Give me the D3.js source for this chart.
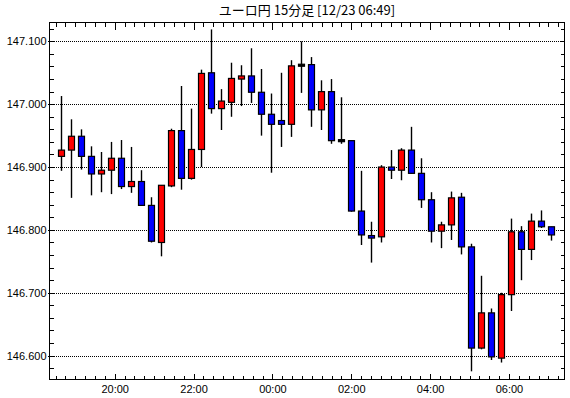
<!DOCTYPE html>
<html>
<head>
<meta charset="utf-8">
<script src="https://cdn.jsdelivr.net/npm/d3@7"></script>
<style>
  html, body { margin: 0; padding: 0; background: #fff; }
  svg { display: block; }
  .tick-label { font-family: "Liberation Sans", Arial, sans-serif; font-size: 11px; fill: #000; }
</style>
</head>
<body>
<svg id="chart" width="570" height="398"></svg>
<script>
// =========
// DATA
// =========

// 15 minute candles, 12/22 18:30 .. 12/23 06:45
const times = ["18:30","18:45","19:00","19:15","19:30","19:45","20:00","20:15","20:30","20:45",
               "21:00","21:15","21:30","21:45","22:00","22:15","22:30","22:45","23:00","23:15",
               "23:30","23:45","00:00","00:15","00:30","00:45","01:00","01:15","01:30","01:45",
               "02:00","02:15","02:30","02:45","03:00","03:15","03:30","03:45","04:00","04:15",
               "04:30","04:45","05:00","05:15","05:30","05:45","06:00","06:15","06:30","06:45"];

const opens  = [146.917,146.927,146.949,146.917,146.889,146.895,146.914,146.869,146.877,146.839,
                146.780,146.870,146.958,146.882,146.928,147.050,146.993,147.003,147.040,147.045,
                147.019,146.984,146.974,146.968,147.062,147.063,146.991,147.020,146.942,146.942,
                146.830,146.791,146.789,146.900,146.895,146.927,146.890,146.848,146.798,146.808,
                146.852,146.773,146.612,146.668,146.596,146.697,146.797,146.769,146.814,146.805];

const highs  = [147.013,146.976,146.960,146.933,146.924,146.940,146.943,146.932,146.895,146.852,
                146.871,146.961,147.029,146.993,147.055,147.119,147.024,147.066,147.062,147.089,
                147.056,147.017,147.050,147.070,147.100,147.075,147.038,147.040,147.011,146.942,
                146.894,146.813,146.903,146.927,146.930,146.964,146.914,146.860,146.813,146.861,
                146.859,146.778,146.727,146.675,146.700,146.818,146.806,146.826,146.831,146.805];

const lows   = [146.894,146.851,146.896,146.855,146.860,146.857,146.865,146.859,146.838,146.780,
                146.758,146.868,146.864,146.880,146.900,146.985,146.959,146.980,146.997,147.002,
                146.950,146.891,146.932,146.948,147.018,146.964,146.959,146.937,146.937,146.829,
                146.776,146.748,146.780,146.881,146.879,146.890,146.835,146.780,146.771,146.784,
                146.761,146.575,146.610,146.593,146.589,146.671,146.720,146.752,146.803,146.783];

const closes = [146.927,146.949,146.917,146.889,146.895,146.914,146.869,146.877,146.839,146.782,
                146.871,146.958,146.882,146.928,147.049,146.993,147.005,147.041,147.045,147.019,
                146.984,146.968,146.968,147.061,147.062,146.991,147.020,146.942,146.942,146.830,
                146.792,146.787,146.900,146.895,146.927,146.890,146.848,146.798,146.808,146.851,
                146.773,146.612,146.668,146.598,146.697,146.797,146.769,146.814,146.805,146.792];

const yTickValues = [146.6, 146.7, 146.8, 146.9, 147.0, 147.1];

const titleText = "ユーロ円 15分足 [12/23 06:49]";

// =========
// LAYOUT
// =========

const svg = d3.select("#chart");
const plotLeft = 49.5, plotRight = 564.5, plotTop = 22.5, plotBottom = 379.5;

// price scale
const y = d3.scaleLinear()
  .domain([146.562, 147.130])
  .range([plotBottom, plotTop]);

// time scale for the axis ticks
const tAxis = d3.scaleTime()
  .domain([new Date(2024, 11, 22, 18, 20, 48), new Date(2024, 11, 23, 7, 24, 30)])
  .range([plotLeft, plotRight]);

// candle positions
const x = d3.scalePoint()
  .domain(times)
  .range([60.5, 550.5]);

const candles = times.map((t, i) => ({
  t: t, o: opens[i], h: highs[i], l: lows[i], c: closes[i]
}));

// ============
// GRIDLINES
// ============

svg.append("g")
  .selectAll("line")
  .data(yTickValues)
  .enter()
  .append("line")
    .attr("x1", plotLeft)
    .attr("x2", plotRight)
    .attr("y1", d => Math.round(y(d)) + 0.5)
    .attr("y2", d => Math.round(y(d)) + 0.5)
    .attr("stroke", "#000")
    .attr("stroke-width", 1)
    .attr("stroke-dasharray", "1,1")
    .attr("shape-rendering", "crispEdges");

// ============
// AXES
// ============

const tickStyle = g => {
  g.select(".domain").remove();
  g.selectAll(".tick line").attr("stroke", "#000").attr("shape-rendering", "crispEdges");
};

// minor y ticks (inward), both sides
svg.append("g")
  .attr("transform", "translate(" + plotLeft + ",0)")
  .call(d3.axisRight(y).ticks(30).tickSize(4).tickFormat(""))
  .call(tickStyle);

svg.append("g")
  .attr("transform", "translate(" + plotRight + ",0)")
  .call(d3.axisLeft(y).ticks(30).tickSize(4).tickFormat(""))
  .call(tickStyle);

// y labels
svg.append("g")
  .attr("transform", "translate(" + plotLeft + ",0)")
  .call(d3.axisLeft(y).tickValues(yTickValues).tickSize(2).tickPadding(1).tickFormat(d3.format(".3f")))
  .call(tickStyle)
  .call(g => g.selectAll("text").attr("class", "tick-label").attr("font-family", null).attr("font-size", null));

// minor x ticks top and bottom
svg.append("g")
  .attr("transform", "translate(0," + plotTop + ")")
  .call(d3.axisBottom(tAxis).ticks(d3.timeMinute.every(15)).tickSize(4).tickFormat(""))
  .call(tickStyle);

svg.append("g")
  .attr("transform", "translate(0," + plotBottom + ")")
  .call(d3.axisTop(tAxis).ticks(d3.timeMinute.every(15)).tickSize(4).tickFormat(""))
  .call(tickStyle);

// major x ticks
svg.append("g")
  .attr("transform", "translate(0," + plotTop + ")")
  .call(d3.axisBottom(tAxis).ticks(d3.timeHour.every(2)).tickSize(7).tickFormat(""))
  .call(tickStyle);

svg.append("g")
  .attr("transform", "translate(0," + plotBottom + ")")
  .call(d3.axisTop(tAxis).ticks(d3.timeHour.every(2)).tickSize(6).tickFormat(""))
  .call(tickStyle);

// x labels
svg.append("g")
  .attr("transform", "translate(0," + plotBottom + ")")
  .call(d3.axisBottom(tAxis).ticks(d3.timeHour.every(2)).tickSize(0).tickPadding(6).tickFormat(d3.timeFormat("%H:%M")))
  .call(tickStyle)
  .call(g => g.selectAll("text").attr("class", "tick-label").attr("font-family", null).attr("font-size", null));

// ============
// CANDLES
// ============

const color = d => d.c > d.o ? "#ff0000" : (d.c < d.o ? "#0000ff" : "#000000");

const cg = svg.append("g");

cg.selectAll(".wick")
  .data(candles)
  .enter()
  .append("line")
    .attr("class", "wick")
    .attr("x1", d => Math.round(x(d.t)) + 0.5)
    .attr("x2", d => Math.round(x(d.t)) + 0.5)
    .attr("y1", d => y(d.h))
    .attr("y2", d => y(d.l))
    .attr("stroke", "#000")
    .attr("stroke-width", 1.4);

cg.selectAll(".body")
  .data(candles)
  .enter()
  .append("rect")
    .attr("class", "body")
    .attr("x", d => Math.round(x(d.t)) - 2.5)
    .attr("width", 6)
    .attr("y", d => d.c === d.o ? y(d.o) - 1 : y(Math.max(d.o, d.c)))
    .attr("height", d => d.c === d.o ? 2 : Math.max(1, y(Math.min(d.o, d.c)) - y(Math.max(d.o, d.c))))
    .attr("fill", color)
    .attr("stroke", "#000")
    .attr("stroke-width", 1.2);

// ============
// FRAME + TITLE
// ============

svg.append("rect")
  .attr("x", plotLeft)
  .attr("y", plotTop)
  .attr("width", plotRight - plotLeft)
  .attr("height", plotBottom - plotTop)
  .attr("fill", "none")
  .attr("stroke", "#000")
  .attr("stroke-width", 1);

svg.append("text")
  .attr("x", (plotLeft + plotRight) / 2)
  .attr("y", 15)
  .attr("text-anchor", "middle")
  .attr("font-family", "'Noto Sans CJK JP', sans-serif")
  .attr("font-size", 13)
  .text(titleText);
</script>
</body>
</html>
